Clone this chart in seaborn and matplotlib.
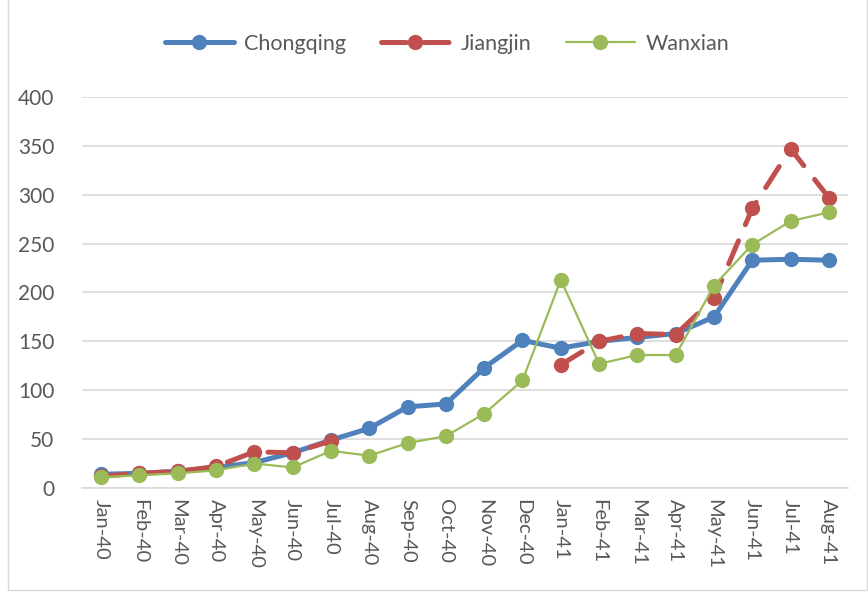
import numpy as np
import pandas as pd
import matplotlib
matplotlib.use("Agg")
import matplotlib.pyplot as plt
from matplotlib.lines import Line2D
from matplotlib.patches import Rectangle
import seaborn as sns

months = ["Jan-40", "Feb-40", "Mar-40", "Apr-40", "May-40", "Jun-40", "Jul-40",
          "Aug-40", "Sep-40", "Oct-40", "Nov-40", "Dec-40", "Jan-41", "Feb-41",
          "Mar-41", "Apr-41", "May-41", "Jun-41", "Jul-41", "Aug-41"]
chongqing = [14, 15, 17, 21, 26, 36, 49, 61, 83, 86, 123, 151, 143, 150,
             154, 158, 175, 233, 234, 233]
jiangjin = [12, 15, 17, 22, 37, 36, 48, np.nan, np.nan, np.nan, np.nan, np.nan,
            126, 150, 158, 157, 194, 286, 347, 297]
wanxian = [11, 13, 15, 18, 25, 21, 38, 33, 46, 53, 76, 110, 213, 127,
           136, 136, 207, 249, 273, 282]

blue = "#4f81bd"
red = "#c0504d"
green = "#9bbb59"
txt = "#595959"

sns.set_theme(style="white")
plt.rcParams["font.family"] = ["Lato", "DejaVu Sans"]

x = np.arange(len(months))
df_c = pd.DataFrame({"x": x, "v": chongqing})
df_w = pd.DataFrame({"x": x, "v": wanxian})
df_j = pd.DataFrame({"x": x, "v": jiangjin})
# split the Jiangjin series where values are missing so the line breaks
df_j["seg"] = df_j["v"].isna().cumsum()
df_j = df_j.dropna()

ms = 11
fig = plt.figure(figsize=(8.68, 5.94), dpi=100)
ax = fig.add_axes([0.0945, 0.1785, 0.8825, 0.6582])

sns.lineplot(data=df_c, x="x", y="v", ax=ax, color=blue, lw=3.6,
             marker="o", markersize=ms, markeredgewidth=0, zorder=3)
sns.lineplot(data=df_j, x="x", y="v", units="seg", estimator=None, ax=ax,
             color=red, lw=3.6, marker="o", markersize=ms, markeredgewidth=0,
             zorder=4)
for ln in ax.lines[1:]:
    ln.set_linestyle((0, (5, 3.5)))
    ln.set_dash_capstyle("round")
sns.lineplot(data=df_w, x="x", y="v", ax=ax, color=green, lw=1.6,
             marker="o", markersize=ms, markeredgewidth=0, zorder=5)

ax.set_xlim(-0.5, len(months) - 0.5)
ax.set_ylim(0, 400)
ax.set_yticks(range(0, 401, 50))
ax.set_xticks(x)
ax.set_xticklabels(months, rotation=-90, fontsize=14.5, color=txt)
ax.tick_params(axis="y", labelsize=15, labelcolor=txt, length=0, pad=20)
ax.tick_params(axis="x", length=0, pad=8)
ax.set_xlabel("")
ax.set_ylabel("")
ax.grid(axis="y", color="#d9d9d9", lw=1.2)
ax.set_axisbelow(True)
for side in ["left", "right", "top"]:
    ax.spines[side].set_visible(False)
ax.spines["bottom"].set_color("#d9d9d9")
ax.spines["bottom"].set_linewidth(1.2)
ax.spines["bottom"].set_zorder(1)

handles = [
    Line2D([], [], color=blue, lw=3.6, marker="o", markersize=ms, markeredgewidth=0),
    Line2D([], [], color=red, lw=3.6, ls=(0, (5, 3.5)), marker="o", markersize=ms,
           markeredgewidth=0, dash_capstyle="round"),
    Line2D([], [], color=green, lw=1.6, marker="o", markersize=ms, markeredgewidth=0),
]
fig.legend(handles, ["Chongqing", "Jiangjin", "Wanxian"], loc="center",
           bbox_to_anchor=(0.515, 0.926), ncol=3, frameon=False, fontsize=15.5,
           labelcolor=txt, handlelength=3.2, columnspacing=1.6, handletextpad=0.5)

fig.patches.append(Rectangle((0.009, 0.006), 0.99, 1.2, transform=fig.transFigure,
                             fill=False, edgecolor="#d9d9d9", lw=1))

fig.savefig("out.png", dpi=100)
